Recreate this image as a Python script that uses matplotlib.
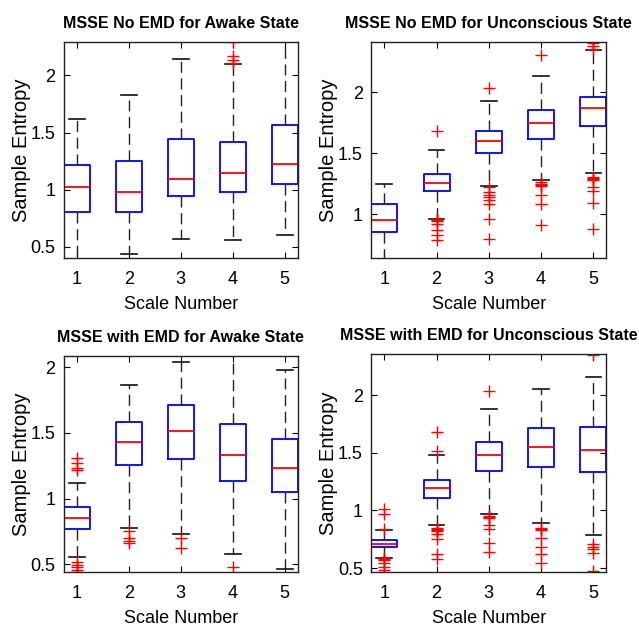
import matplotlib
matplotlib.use("Agg")
import matplotlib.pyplot as plt
from matplotlib import font_manager

names = {f.name for f in font_manager.fontManager.ttflist}
base = "Liberation Sans Narrow" if "Liberation Sans Narrow" in names else "Liberation Sans"
plt.rcParams['font.family'] = [base, 'DejaVu Sans']

scales = [1, 2, 3, 4, 5]
titles = ["MSSE No EMD for Awake State", "MSSE No EMD for Unconscious State",
          "MSSE with EMD for Awake State", "MSSE with EMD for Unconscious State"]

# Panel 1: No EMD, Awake
p1_whislo = [0.30, 0.435, 0.570, 0.561, 0.607]
p1_q1 = [0.809, 0.809, 0.941, 0.983, 1.050]
p1_med = [1.026, 0.983, 1.091, 1.147, 1.221]
p1_q3 = [1.218, 1.247, 1.444, 1.421, 1.563]
p1_whishi = [1.616, 1.827, 2.143, 2.101, 2.45]
p1_fliers = [[], [], [], [2.295, 2.167, 2.131, 2.110], []]

# Panel 2: No EMD, Unconscious
p2_whislo = [0.55, 0.962, 1.231, 1.280, 1.341]
p2_q1 = [0.852, 1.190, 1.500, 1.615, 1.720]
p2_med = [0.951, 1.255, 1.602, 1.745, 1.868]
p2_q3 = [1.085, 1.332, 1.681, 1.852, 1.964]
p2_whishi = [1.245, 1.525, 1.931, 2.137, 2.346]
p2_fliers = [[],
             [1.684, 0.958, 0.950, 0.944, 0.918, 0.874, 0.832, 0.786],
             [2.038, 1.220, 1.184, 1.160, 1.143, 1.115, 1.082, 0.964, 0.802],
             [2.302, 1.266, 1.245, 1.238, 1.230, 1.162, 1.088, 0.915],
             [2.448, 2.407, 2.379, 2.357, 1.305, 1.298, 1.290, 1.283, 1.225, 1.192, 1.096, 0.882]]

# Panel 3: with EMD, Awake
p3_whislo = [0.551, 0.779, 0.731, 0.576, 0.462]
p3_q1 = [0.766, 1.254, 1.302, 1.137, 1.051]
p3_med = [0.850, 1.434, 1.515, 1.330, 1.231]
p3_q3 = [0.934, 1.581, 1.711, 1.571, 1.457]
p3_whishi = [1.117, 1.865, 2.043, 2.200, 1.977]
p3_fliers = [[1.307, 1.274, 1.231, 1.218, 0.515, 0.495, 0.477, 0.455, 0.440],
             [0.749, 0.703, 0.673, 0.665],
             [0.703, 0.622],
             [0.475],
             []]

# Panel 4: with EMD, Unconscious
p4_whislo = [0.590, 0.870, 0.971, 0.890, 0.783]
p4_q1 = [0.685, 1.113, 1.347, 1.382, 1.332]
p4_med = [0.711, 1.194, 1.483, 1.549, 1.523]
p4_q3 = [0.740, 1.266, 1.592, 1.714, 1.725]
p4_whishi = [0.829, 1.483, 1.884, 2.052, 2.159]
p4_fliers = [[1.014, 0.971, 0.841, 0.584, 0.578, 0.572, 0.546, 0.509, 0.480],
             [1.682, 1.520, 0.850, 0.840, 0.830, 0.820, 0.792, 0.749, 0.618, 0.581],
             [2.040, 0.955, 0.945, 0.935, 0.870, 0.835, 0.720, 0.642],
             [0.850, 0.840, 0.830, 0.757, 0.682, 0.618, 0.546],
             [2.353, 0.705, 0.682, 0.662, 0.627, 0.474]]

ytick_vals = [0.5, 1, 1.5, 2]
ytick_labels = ['0.5', '1', '1.5', '2']
ylims = [(0.40, 2.29), (0.64, 2.41), (0.44, 2.086), (0.465, 2.36)]
panels = [
    (p1_whislo, p1_q1, p1_med, p1_q3, p1_whishi, p1_fliers),
    (p2_whislo, p2_q1, p2_med, p2_q3, p2_whishi, p2_fliers),
    (p3_whislo, p3_q1, p3_med, p3_q3, p3_whishi, p3_fliers),
    (p4_whislo, p4_q1, p4_med, p4_q3, p4_whishi, p4_fliers),
]

fig = plt.figure(figsize=(6.39, 6.30), dpi=100)
positions_ax = [
    [0.100, 0.590, 0.366, 0.343],
    [0.581, 0.590, 0.368, 0.343],
    [0.100, 0.092, 0.366, 0.343],
    [0.581, 0.092, 0.368, 0.346],
]

for i, (pos, data) in enumerate(zip(positions_ax, panels)):
    ax = fig.add_axes(pos)
    wlo, q1, med, q3, whi, fl = data
    stats = []
    for k in range(len(scales)):
        stats.append(dict(whislo=wlo[k], q1=q1[k], med=med[k], q3=q3[k],
                          whishi=whi[k], fliers=fl[k]))
    ax.bxp(stats, positions=scales, widths=0.5, capwidths=0.3,
           boxprops=dict(color='#0000ff', linewidth=1.3),
           medianprops=dict(color='#ff0000', linewidth=1.3),
           whiskerprops=dict(color='#222222', linewidth=1.0, linestyle=(0, (8, 4))),
           capprops=dict(color='#111111', linewidth=1.2),
           flierprops=dict(marker='+', markeredgecolor='#ff0000', markersize=8,
                           markeredgewidth=1.0, linestyle='none'),
           showfliers=True)
    ax.set_xticks(scales)
    ax.set_xticklabels([str(s) for s in scales])
    ax.set_yticks(ytick_vals)
    ax.set_yticklabels(ytick_labels)
    ax.set_xlim(0.75, 5.25)
    ax.set_ylim(*ylims[i])
    ax.tick_params(direction='in', top=True, right=True, labelsize=13, length=4,
                   width=0.8)
    ax.tick_params(axis='x', pad=9)
    ax.tick_params(axis='y', pad=6)
    for sp in ax.spines.values():
        sp.set_linewidth(1.0)
        sp.set_color('#222222')
    ax.set_xlabel("Scale Number", fontsize=13, labelpad=6)
    ax.set_ylabel("Sample Entropy", fontsize=14.5, labelpad=0)
    ax.set_title(titles[i], fontsize=11.5, fontweight='bold', pad=10)

fig.savefig("out.png", dpi=100)
